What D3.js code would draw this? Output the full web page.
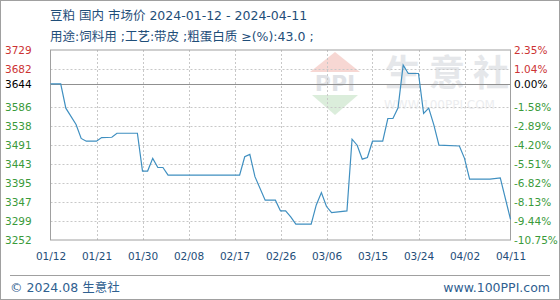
<!DOCTYPE html>
<html>
<head>
<meta charset="utf-8">
<script src="https://cdn.jsdelivr.net/npm/d3@7"></script>
<style>
  body { margin: 0; background: #fff; }
  svg { display: block; font-family: "DejaVu Sans", "Noto Sans CJK SC", sans-serif; }
</style>
</head>
<body>
<script>
// data
const dates = ["2024-01-12","2024-01-14","2024-01-15","2024-01-17","2024-01-18","2024-01-19","2024-01-21","2024-01-22","2024-01-24","2024-01-25",
  "2024-01-29","2024-01-30","2024-01-31","2024-02-01","2024-02-02","2024-02-03","2024-02-04","2024-02-18","2024-02-19","2024-02-20",
  "2024-02-21","2024-02-23","2024-02-25","2024-02-26","2024-02-27","2024-02-28","2024-02-29","2024-03-03","2024-03-04","2024-03-05",
  "2024-03-06","2024-03-07","2024-03-10","2024-03-11","2024-03-12","2024-03-13","2024-03-14","2024-03-15","2024-03-17","2024-03-18",
  "2024-03-19","2024-03-20","2024-03-21","2024-03-22","2024-03-24","2024-03-25","2024-03-26","2024-03-27","2024-03-28","2024-04-01",
  "2024-04-02","2024-04-03","2024-04-07","2024-04-09","2024-04-11"];
const prices = [3644,3644,3583,3542,3507,3500,3500,3509,3510,3520,
  3520,3425,3425,3457,3434,3434,3415,3415,3461,3467,
  3411,3352,3352,3325,3325,3310,3292,3292,3340,3371,
  3336,3321,3325,3505,3490,3455,3459,3500,3500,3557,
  3557,3584,3691,3670,3670,3570,3583,3541,3490,3488,
  3457,3405,3405,3408,3304];
const basePrice = 3644;
const priceTicks = [3729,3682,3644,3586,3538,3491,3443,3395,3347,3299,3252];
const pctTicks = [2.35,1.04,0.00,-1.58,-2.89,-4.20,-5.51,-6.82,-8.13,-9.44,-10.75];
const xTicks = ["2024-01-12","2024-01-21","2024-01-30","2024-02-08","2024-02-17","2024-02-26","2024-03-06","2024-03-15","2024-03-24","2024-04-02","2024-04-11"];

const width = 560, height = 300;
const plotLeft = 50.5, plotRight = 510.5, plotTop = 50, plotBottom = 240;

const parse = d3.timeParse("%Y-%m-%d");
const data = dates.map((d, i) => ({ date: parse(d), value: prices[i] }));

const svg = d3.select("body").append("svg")
  .attr("width", width)
  .attr("height", height);

// outer frame
svg.append("rect")
  .attr("x", 0.5).attr("y", 0.5)
  .attr("width", width - 1).attr("height", height - 1)
  .attr("fill", "#fff").attr("stroke", "#a0a0a0");

const xScale = d3.scaleTime()
  .domain([parse("2024-01-12"), parse("2024-04-11")])
  .range([plotLeft, plotRight]);
const yScale = d3.scaleLinear()
  .domain([3252, 3729])
  .range([plotBottom, plotTop]);

// watermark
const wm = svg.append("g").attr("opacity", 0.55);
wm.append("path")
  .attr("d", "M335,52 L360,72 L310,72 Z")
  .attr("fill", "#f2b8b0");
wm.append("path")
  .attr("d", "M312,95 L358,95 L335,115 Z")
  .attr("fill", "#bfe0bf");
wm.append("text")
  .attr("x", 335).attr("y", 91)
  .attr("text-anchor", "middle")
  .attr("font-size", 22).attr("font-weight", "bold")
  .attr("fill", "#c8ccd2")
  .text("PPI");
wm.append("text")
  .attr("x", 385).attr("y", 86)
  .attr("font-size", 36).attr("font-weight", "bold")
  .attr("letter-spacing", 8)
  .attr("fill", "#d0d4da")
  .attr("font-family", "Noto Sans CJK SC")
  .text("生意社");
wm.append("text")
  .attr("x", 384).attr("y", 109)
  .attr("font-size", 12)
  .attr("fill", "#dde0e4")
  .text("WWW.100PPI.COM");

// grid
svg.append("g")
  .selectAll("line")
  .data(priceTicks.filter(v => v !== basePrice && v !== 3729 && v !== 3252))
  .join("line")
  .attr("x1", plotLeft).attr("x2", plotRight)
  .attr("y1", d => Math.round(yScale(d)) + 0.5)
  .attr("y2", d => Math.round(yScale(d)) + 0.5)
  .attr("stroke", "#c8c8c8")
  .attr("stroke-dasharray", "2,2");

svg.append("g")
  .selectAll("line")
  .data(xTicks.slice(1, -1))
  .join("line")
  .attr("x1", d => Math.round(xScale(parse(d))) + 0.5)
  .attr("x2", d => Math.round(xScale(parse(d))) + 0.5)
  .attr("y1", plotTop).attr("y2", plotBottom)
  .attr("stroke", "#c8c8c8")
  .attr("stroke-dasharray", "2,2");

// base line
svg.append("line")
  .attr("x1", plotLeft).attr("x2", plotRight)
  .attr("y1", Math.round(yScale(basePrice)) + 0.5)
  .attr("y2", Math.round(yScale(basePrice)) + 0.5)
  .attr("stroke", "#909090");

// plot frame
svg.append("rect")
  .attr("x", plotLeft).attr("y", plotTop)
  .attr("width", plotRight - plotLeft).attr("height", plotBottom - plotTop)
  .attr("fill", "none")
  .attr("stroke", "#a0a0a0");

// price line
const line = d3.line()
  .x(d => xScale(d.date))
  .y(d => yScale(d.value));

svg.append("path")
  .datum(data)
  .attr("fill", "none")
  .attr("stroke", "#3f8fc0")
  .attr("stroke-width", 1.2)
  .attr("d", line);

// axis labels
const tickColor = v => v > basePrice ? "#cc3333" : (v === basePrice ? "#000" : "#3a9a3a");

svg.append("g")
  .selectAll("text")
  .data(priceTicks)
  .join("text")
  .attr("x", 5)
  .attr("y", d => yScale(d) + 4)
  .attr("font-size", 10.5)
  .attr("fill", tickColor)
  .text(d => d);

svg.append("g")
  .selectAll("text")
  .data(pctTicks)
  .join("text")
  .attr("x", 514)
  .attr("y", d => yScale(basePrice * (1 + d / 100)) + 4)
  .attr("font-size", 10.5)
  .attr("fill", d => d > 0 ? "#cc3333" : (d === 0 ? "#000" : "#3a9a3a"))
  .text(d => d.toFixed(2) + "%");

const xAxis = d3.axisBottom(xScale)
  .tickValues(xTicks.map(parse))
  .tickFormat(d3.timeFormat("%m/%d"))
  .tickSize(0)
  .tickPadding(13);

svg.append("g")
  .attr("transform", `translate(0,${plotBottom})`)
  .call(xAxis)
  .call(g => g.select(".domain").remove())
  .call(g => g.selectAll("text")
    .attr("font-size", 10.5)
    .attr("fill", "#1f4e79")
    .attr("font-family", "DejaVu Sans"));

// titles
svg.append("text")
  .attr("x", 50).attr("y", 20)
  .attr("font-size", 12.5)
  .attr("fill", "#1f4e79")
  .text("豆粕 国内 市场价 2024-01-12 - 2024-04-11");
svg.append("text")
  .attr("x", 50).attr("y", 41)
  .attr("font-size", 12.5)
  .attr("fill", "#1f4e79")
  .text("用途:饲料用 ;工艺:带皮 ;粗蛋白质 ≥(%):43.0 ;");

// footer
svg.append("line")
  .attr("x1", 10).attr("x2", 550)
  .attr("y1", 275.5).attr("y2", 275.5)
  .attr("stroke", "#a0a0a0");
svg.append("text")
  .attr("x", 10).attr("y", 292)
  .attr("font-size", 12.5)
  .attr("fill", "#2f6090")
  .text("© 2024.08 生意社");
svg.append("text")
  .attr("x", 550).attr("y", 292)
  .attr("text-anchor", "end")
  .attr("font-size", 12.5)
  .attr("fill", "#2f6090")
  .text("www.100PPI.com");
</script>
</body>
</html>
